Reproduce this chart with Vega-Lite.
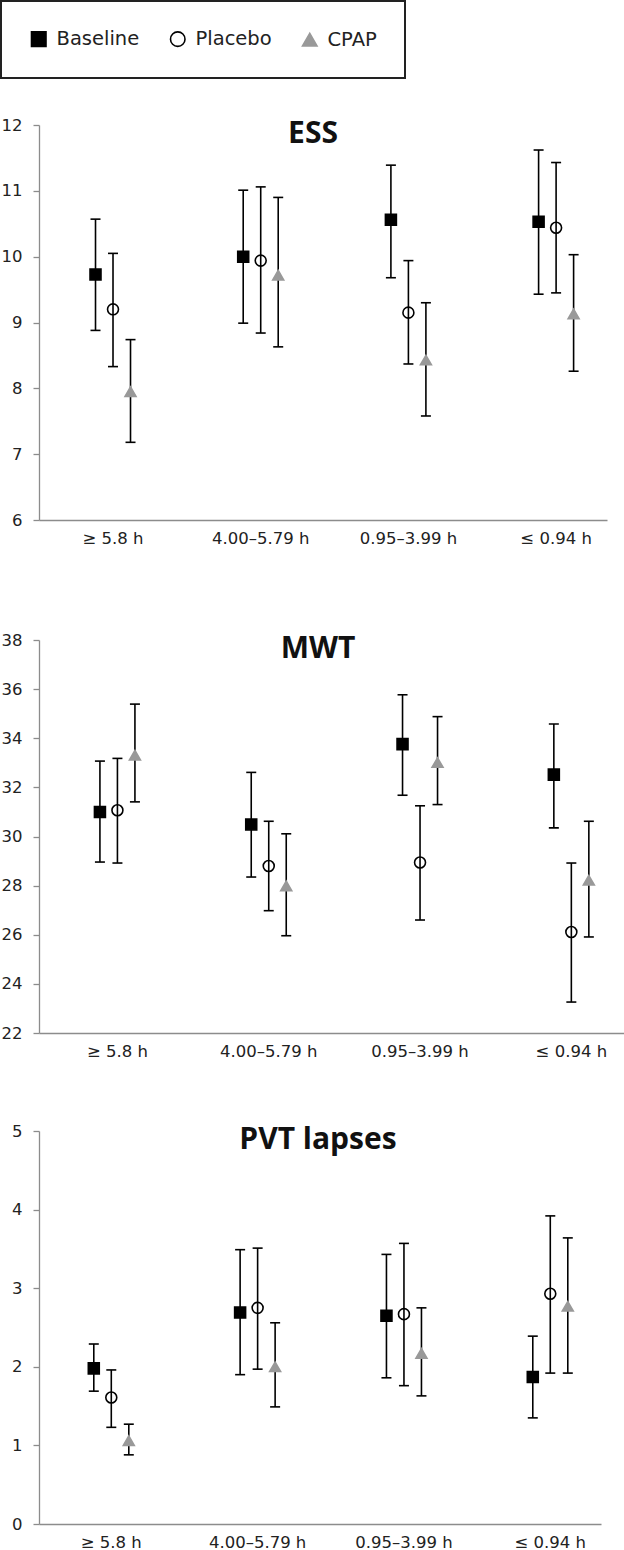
{
  "$schema": "https://vega.github.io/schema/vega-lite/v6.json",
  "padding": 0,
  "background": "white",
  "spacing": 63,
  "config": {
    "view": {"stroke": null},
    "legend": {
      "orient": "none", "legendX": -38, "legendY": -124, "direction": "horizontal", "padding": 28,
      "strokeColor": "#222", "strokeWidth": 2,
      "labelFont": "DejaVu Sans", "labelFontSize": 19.5, "labelColor": "#222",
      "symbolSize": 210, "symbolStrokeWidth": 1.6, "labelOffset": 8, "columnPadding": 27
    },
    "axis": {
      "domainColor": "#8c8c8c", "tickColor": "#8c8c8c", "domainWidth": 1.3, "tickWidth": 1.3,
      "labelFont": "DejaVu Sans", "labelFontSize": 16.5, "labelColor": "#222", "grid": false, "title": null
    },
    "axisY": {"tickSize": 6, "labelPadding": 11, "format": "d"},
    "axisX": {"ticks": false, "labelPadding": 10, "labelAngle": 0}
  },
  "data": {
    "values": [
      {"panel": "ESS", "cat": "≥ 5.8 h", "group": "Baseline", "mean": 9.73, "lo": 8.88, "hi": 10.57},
      {"panel": "ESS", "cat": "≥ 5.8 h", "group": "Placebo", "mean": 9.20, "lo": 8.33, "hi": 10.05},
      {"panel": "ESS", "cat": "≥ 5.8 h", "group": "CPAP", "mean": 7.95, "lo": 7.18, "hi": 8.74},
      {"panel": "ESS", "cat": "4.00–5.79 h", "group": "Baseline", "mean": 10.00, "lo": 8.99, "hi": 11.01},
      {"panel": "ESS", "cat": "4.00–5.79 h", "group": "Placebo", "mean": 9.94, "lo": 8.84, "hi": 11.06},
      {"panel": "ESS", "cat": "4.00–5.79 h", "group": "CPAP", "mean": 9.72, "lo": 8.63, "hi": 10.90},
      {"panel": "ESS", "cat": "0.95–3.99 h", "group": "Baseline", "mean": 10.56, "lo": 9.68, "hi": 11.39},
      {"panel": "ESS", "cat": "0.95–3.99 h", "group": "Placebo", "mean": 9.15, "lo": 8.37, "hi": 9.94},
      {"panel": "ESS", "cat": "0.95–3.99 h", "group": "CPAP", "mean": 8.43, "lo": 7.58, "hi": 9.30},
      {"panel": "ESS", "cat": "≤ 0.94 h", "group": "Baseline", "mean": 10.53, "lo": 9.43, "hi": 11.62},
      {"panel": "ESS", "cat": "≤ 0.94 h", "group": "Placebo", "mean": 10.44, "lo": 9.45, "hi": 11.43},
      {"panel": "ESS", "cat": "≤ 0.94 h", "group": "CPAP", "mean": 9.13, "lo": 8.26, "hi": 10.03},
      {"panel": "MWT", "cat": "≥ 5.8 h", "group": "Baseline", "mean": 31.00, "lo": 28.96, "hi": 33.07},
      {"panel": "MWT", "cat": "≥ 5.8 h", "group": "Placebo", "mean": 31.07, "lo": 28.92, "hi": 33.18},
      {"panel": "MWT", "cat": "≥ 5.8 h", "group": "CPAP", "mean": 33.31, "lo": 31.41, "hi": 35.39},
      {"panel": "MWT", "cat": "4.00–5.79 h", "group": "Baseline", "mean": 30.49, "lo": 28.35, "hi": 32.61},
      {"panel": "MWT", "cat": "4.00–5.79 h", "group": "Placebo", "mean": 28.80, "lo": 26.98, "hi": 30.62},
      {"panel": "MWT", "cat": "4.00–5.79 h", "group": "CPAP", "mean": 27.99, "lo": 25.96, "hi": 30.11},
      {"panel": "MWT", "cat": "0.95–3.99 h", "group": "Baseline", "mean": 33.76, "lo": 31.68, "hi": 35.77},
      {"panel": "MWT", "cat": "0.95–3.99 h", "group": "Placebo", "mean": 28.94, "lo": 26.60, "hi": 31.25},
      {"panel": "MWT", "cat": "0.95–3.99 h", "group": "CPAP", "mean": 33.01, "lo": 31.30, "hi": 34.88},
      {"panel": "MWT", "cat": "≤ 0.94 h", "group": "Baseline", "mean": 32.52, "lo": 30.35, "hi": 34.58},
      {"panel": "MWT", "cat": "≤ 0.94 h", "group": "Placebo", "mean": 26.11, "lo": 23.26, "hi": 28.92},
      {"panel": "MWT", "cat": "≤ 0.94 h", "group": "CPAP", "mean": 28.22, "lo": 25.91, "hi": 30.62},
      {"panel": "PVT", "cat": "≥ 5.8 h", "group": "Baseline", "mean": 1.98, "lo": 1.69, "hi": 2.29},
      {"panel": "PVT", "cat": "≥ 5.8 h", "group": "Placebo", "mean": 1.61, "lo": 1.23, "hi": 1.96},
      {"panel": "PVT", "cat": "≥ 5.8 h", "group": "CPAP", "mean": 1.06, "lo": 0.88, "hi": 1.27},
      {"panel": "PVT", "cat": "4.00–5.79 h", "group": "Baseline", "mean": 2.69, "lo": 1.90, "hi": 3.49},
      {"panel": "PVT", "cat": "4.00–5.79 h", "group": "Placebo", "mean": 2.75, "lo": 1.97, "hi": 3.51},
      {"panel": "PVT", "cat": "4.00–5.79 h", "group": "CPAP", "mean": 2.00, "lo": 1.49, "hi": 2.56},
      {"panel": "PVT", "cat": "0.95–3.99 h", "group": "Baseline", "mean": 2.65, "lo": 1.86, "hi": 3.43},
      {"panel": "PVT", "cat": "0.95–3.99 h", "group": "Placebo", "mean": 2.67, "lo": 1.76, "hi": 3.57},
      {"panel": "PVT", "cat": "0.95–3.99 h", "group": "CPAP", "mean": 2.17, "lo": 1.63, "hi": 2.75},
      {"panel": "PVT", "cat": "≤ 0.94 h", "group": "Baseline", "mean": 1.87, "lo": 1.35, "hi": 2.39},
      {"panel": "PVT", "cat": "≤ 0.94 h", "group": "Placebo", "mean": 2.93, "lo": 1.92, "hi": 3.92},
      {"panel": "PVT", "cat": "≤ 0.94 h", "group": "CPAP", "mean": 2.77, "lo": 1.92, "hi": 3.64}
    ]
  },
  "vconcat": [
    {
      "width": 568, "height": 395,
      "title": {"text": "ESS", "frame": "group", "anchor": "middle", "offset": -26, "dy": 30, "baseline": "alphabetic", "dx": -10, "font": "Open Sans", "fontWeight": "bold", "fontSize": 30, "color": "#111"},
      "transform": [{"filter": "datum.panel === 'ESS'"}],
      "encoding": {
        "x": {"field": "cat", "type": "nominal", "sort": ["≥ 5.8 h", "4.00–5.79 h", "0.95–3.99 h", "≤ 0.94 h"], "title": null,
              "scale": {"paddingInner": 0.6445, "paddingOuter": 0.2451, "align": 0.6596, "round": false},
              "axis": {"minExtent": 49, "maxExtent": 49}},
        "xOffset": {"field": "group", "type": "nominal", "sort": ["Baseline", "Placebo", "CPAP"], "scale": {"domain": ["Baseline", "Placebo", "CPAP"], "padding": 0}}
      },
      "layer": [
        {"mark": {"type": "rule", "color": "black", "strokeWidth": 1.6},
         "encoding": {"y": {"field": "lo", "type": "quantitative", "title": null, "scale": {"domain": [6, 12], "nice": false, "zero": false},
                            "axis": {"values": [6, 7, 8, 9, 10, 11, 12]}},
                      "y2": {"field": "hi"}}},
        {"mark": {"type": "tick", "color": "black", "thickness": 1.6, "size": 10, "opacity": 1},
         "encoding": {"y": {"field": "lo", "type": "quantitative"}}},
        {"mark": {"type": "tick", "color": "black", "thickness": 1.6, "size": 10, "opacity": 1},
         "encoding": {"y": {"field": "hi", "type": "quantitative"}}},
        {"mark": {"type": "point", "filled": true, "opacity": 1, "strokeWidth": 1.6, "size": 120},
         "encoding": {
           "y": {"field": "mean", "type": "quantitative"},
           "shape": {"field": "group", "type": "nominal", "title": null, "scale": {"domain": ["Baseline", "Placebo", "CPAP"], "range": ["square", "circle", "triangle-up"]}},
           "fill": {"field": "group", "type": "nominal", "title": null, "scale": {"domain": ["Baseline", "Placebo", "CPAP"], "range": ["black", "transparent", "#999999"]}},
           "stroke": {"field": "group", "type": "nominal", "title": null, "scale": {"domain": ["Baseline", "Placebo", "CPAP"], "range": ["black", "black", "#999999"]}}
         }}
      ]
    },
    {
      "width": 586, "height": 393,
      "title": {"text": "MWT", "frame": "group", "anchor": "middle", "offset": -26, "dy": 30, "baseline": "alphabetic", "dx": -14, "font": "Open Sans", "fontWeight": "bold", "fontSize": 30, "color": "#111"},
      "transform": [{"filter": "datum.panel === 'MWT'"}],
      "encoding": {
        "x": {"field": "cat", "type": "nominal", "sort": ["≥ 5.8 h", "4.00–5.79 h", "0.95–3.99 h", "≤ 0.94 h"], "title": null,
              "scale": {"paddingInner": 0.653, "paddingOuter": 0.2630, "align": 0.6556, "round": false},
              "axis": {"minExtent": 26, "maxExtent": 26}},
        "xOffset": {"field": "group", "type": "nominal", "sort": ["Baseline", "Placebo", "CPAP"], "scale": {"domain": ["Baseline", "Placebo", "CPAP"], "padding": 0}}
      },
      "layer": [
        {"mark": {"type": "rule", "color": "black", "strokeWidth": 1.6},
         "encoding": {"y": {"field": "lo", "type": "quantitative", "title": null, "scale": {"domain": [22, 38], "nice": false, "zero": false},
                            "axis": {"values": [22, 24, 26, 28, 30, 32, 34, 36, 38]}},
                      "y2": {"field": "hi"}}},
        {"mark": {"type": "tick", "color": "black", "thickness": 1.6, "size": 10, "opacity": 1},
         "encoding": {"y": {"field": "lo", "type": "quantitative"}}},
        {"mark": {"type": "tick", "color": "black", "thickness": 1.6, "size": 10, "opacity": 1},
         "encoding": {"y": {"field": "hi", "type": "quantitative"}}},
        {"mark": {"type": "point", "filled": true, "opacity": 1, "strokeWidth": 1.6, "size": 120},
         "encoding": {
           "y": {"field": "mean", "type": "quantitative"},
           "shape": {"field": "group", "type": "nominal", "title": null, "scale": {"domain": ["Baseline", "Placebo", "CPAP"], "range": ["square", "circle", "triangle-up"]}},
           "fill": {"field": "group", "type": "nominal", "title": null, "scale": {"domain": ["Baseline", "Placebo", "CPAP"], "range": ["black", "transparent", "#999999"]}},
           "stroke": {"field": "group", "type": "nominal", "title": null, "scale": {"domain": ["Baseline", "Placebo", "CPAP"], "range": ["black", "black", "#999999"]}}
         }}
      ]
    },
    {
      "width": 562, "height": 393,
      "title": {"text": "PVT lapses", "frame": "group", "anchor": "middle", "offset": -26, "dy": 30, "baseline": "alphabetic", "dx": -2, "font": "Open Sans", "fontWeight": "bold", "fontSize": 30, "color": "#111"},
      "transform": [{"filter": "datum.panel === 'PVT'"}],
      "encoding": {
        "x": {"field": "cat", "type": "nominal", "sort": ["≥ 5.8 h", "4.00–5.79 h", "0.95–3.99 h", "≤ 0.94 h"], "title": null,
              "scale": {"paddingInner": 0.6412, "paddingOuter": 0.2409, "align": 0.653, "round": false},
              "axis": {"minExtent": 28, "maxExtent": 28}},
        "xOffset": {"field": "group", "type": "nominal", "sort": ["Baseline", "Placebo", "CPAP"], "scale": {"domain": ["Baseline", "Placebo", "CPAP"], "padding": 0}}
      },
      "layer": [
        {"mark": {"type": "rule", "color": "black", "strokeWidth": 1.6},
         "encoding": {"y": {"field": "lo", "type": "quantitative", "title": null, "scale": {"domain": [0, 5], "nice": false, "zero": false},
                            "axis": {"values": [0, 1, 2, 3, 4, 5]}},
                      "y2": {"field": "hi"}}},
        {"mark": {"type": "tick", "color": "black", "thickness": 1.6, "size": 10, "opacity": 1},
         "encoding": {"y": {"field": "lo", "type": "quantitative"}}},
        {"mark": {"type": "tick", "color": "black", "thickness": 1.6, "size": 10, "opacity": 1},
         "encoding": {"y": {"field": "hi", "type": "quantitative"}}},
        {"mark": {"type": "point", "filled": true, "opacity": 1, "strokeWidth": 1.6, "size": 120},
         "encoding": {
           "y": {"field": "mean", "type": "quantitative"},
           "shape": {"field": "group", "type": "nominal", "title": null, "scale": {"domain": ["Baseline", "Placebo", "CPAP"], "range": ["square", "circle", "triangle-up"]}},
           "fill": {"field": "group", "type": "nominal", "title": null, "scale": {"domain": ["Baseline", "Placebo", "CPAP"], "range": ["black", "transparent", "#999999"]}},
           "stroke": {"field": "group", "type": "nominal", "title": null, "scale": {"domain": ["Baseline", "Placebo", "CPAP"], "range": ["black", "black", "#999999"]}}
         }}
      ]
    }
  ]
}
